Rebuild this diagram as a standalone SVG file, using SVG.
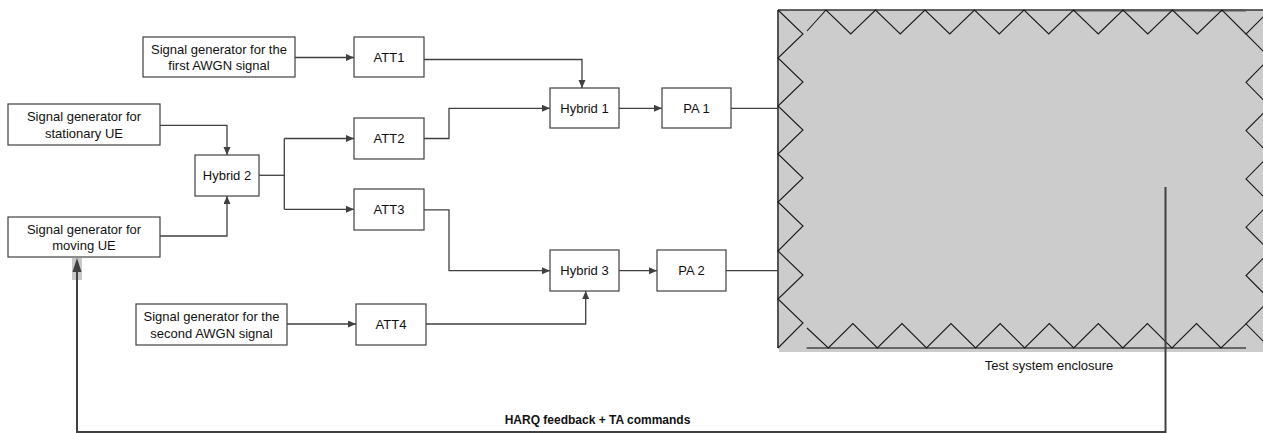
<svg xmlns="http://www.w3.org/2000/svg" width="1263" height="433" viewBox="0 0 1263 433">
<defs>
<style>
.box{fill:#fff;stroke:#404040;stroke-width:1.2}
.t{font-family:"Liberation Sans",Arial,sans-serif;font-size:13px;fill:#111;text-anchor:middle}
.c{fill:none;stroke:#404040;stroke-width:1.3}
.z{fill:none;stroke:#1a1a1a;stroke-width:1.1}
.fb{fill:none;stroke:#404040;stroke-width:2}
</style>
<marker id="ah" markerUnits="userSpaceOnUse" markerWidth="9" markerHeight="8" refX="8" refY="3.5" orient="auto">
<path d="M0,0 L8,3.5 L0,7 z" fill="#404040"/>
</marker>
</defs>
<rect width="1263" height="433" fill="#fff"/>

<g id="enclosure">
<rect x="779" y="10" width="490" height="342" fill="#cccccc"/>
<line x1="778" y1="10" x2="1263" y2="10" stroke="#333" stroke-width="1.5"/>
<line x1="1073" y1="10.5" x2="1246" y2="10.5" stroke="#555" stroke-width="2.2"/>
<line x1="778" y1="10" x2="778" y2="348" stroke="#1a1a1a" stroke-width="1.5"/>
<line x1="806.7" y1="348" x2="1246" y2="348" stroke="#444" stroke-width="1.4"/>
<polyline class="z" points="778,10 803,34 778,58 803,82 778,106 803,130 778,154 803,178 778,202 803,226 778,251 803,275 778,299 803,323 778,348"/>
<polyline class="z" points="807,31 826,10 850.75,34 875.5,10 900.25,34 925,10 949.75,34 974.5,10 999.25,34 1024,10 1048.75,34 1073.5,10 1098.25,34 1123,10 1147.75,34 1172.5,10 1197.25,34 1222,10 1246,34"/>
<polyline class="z" points="1270,10 1246,34 1270,58 1246,82.3 1270,106.5 1246,130.6 1270,154.8 1246,178.9 1270,203 1246,227.2 1270,251.4 1246,275.5 1270,299.7 1246,323.8 1270,348"/>
<polyline class="z" points="807,328 828.3,348 852.9,323.5 877.4,348 902,323.5 926.5,348 951,323.5 975.6,348 1000.2,323.5 1024.7,348 1049.3,323.5 1073.8,348 1098.3,323.5 1122.8,348 1147.4,323.5 1171.9,348 1196.5,323.5 1221,348 1246,323.8"/>
<text class="t" x="1049" y="370">Test system enclosure</text>
</g>

<g id="sg1"><rect class="box" x="143" y="37" width="152" height="40"/><text class="t" x="219" y="53.5">Signal generator for the</text><text class="t" x="219" y="70">first AWGN signal</text></g>
<g id="att1"><rect class="box" x="354" y="37" width="70" height="40"/><text class="t" x="389" y="61.5">ATT1</text></g>
<g id="sgstat"><rect class="box" x="8" y="104" width="152" height="41"/><text class="t" x="84" y="121">Signal generator for</text><text class="t" x="84" y="137.5">stationary UE</text></g>
<g id="hybrid2"><rect class="box" x="195" y="155" width="64" height="41"/><text class="t" x="227" y="180">Hybrid 2</text></g>
<g id="att2"><rect class="box" x="354" y="118" width="70" height="41"/><text class="t" x="389" y="143">ATT2</text></g>
<g id="att3"><rect class="box" x="354" y="189" width="70" height="41"/><text class="t" x="389" y="214">ATT3</text></g>
<g id="sgmov"><rect class="box" x="8" y="217" width="152" height="40"/><text class="t" x="84" y="233.5">Signal generator for</text><text class="t" x="84" y="250">moving UE</text></g>
<g id="sg2"><rect class="box" x="136" y="304" width="151" height="41"/><text class="t" x="211.5" y="321">Signal generator for the</text><text class="t" x="211.5" y="337.5">second AWGN signal</text></g>
<g id="att4"><rect class="box" x="356" y="304" width="70" height="41"/><text class="t" x="391" y="329">ATT4</text></g>
<g id="hybrid1"><rect class="box" x="550" y="88" width="69" height="40"/><text class="t" x="584.5" y="112.5">Hybrid 1</text></g>
<g id="pa1"><rect class="box" x="662" y="88" width="69" height="40"/><text class="t" x="696.5" y="112.5">PA 1</text></g>
<g id="hybrid3"><rect class="box" x="550" y="250" width="69" height="41"/><text class="t" x="584.5" y="275">Hybrid 3</text></g>
<g id="pa2"><rect class="box" x="657" y="250" width="69" height="41"/><text class="t" x="691.5" y="275">PA 2</text></g>

<g id="connectors">
<path class="c" d="M295,57.5 H354" marker-end="url(#ah)"/>
<path class="c" d="M424,59.5 H582 V88" marker-end="url(#ah)"/>
<path class="c" d="M424,138.5 H449 V108.3 H550" marker-end="url(#ah)"/>
<path class="c" d="M619,108.3 H662" marker-end="url(#ah)"/>
<path class="c" d="M731,108.3 H778"/>
<path class="c" d="M424,209.8 H449 V270.7 H550" marker-end="url(#ah)"/>
<path class="c" d="M619,270.7 H657" marker-end="url(#ah)"/>
<path class="c" d="M726,270.7 H778"/>
<path class="c" d="M287,324 H356" marker-end="url(#ah)"/>
<path class="c" d="M426,324 H585.7 V291" marker-end="url(#ah)"/>
<path class="c" d="M160,125.3 H227 V155" marker-end="url(#ah)"/>
<path class="c" d="M160,236 H227 V196" marker-end="url(#ah)"/>
<path class="c" d="M259,175.3 H284.3"/>
<path class="c" d="M284.3,138.5 V209.3"/>
<path class="c" d="M284.3,138.5 H354" marker-end="url(#ah)"/>
<path class="c" d="M284.3,209.3 H354" marker-end="url(#ah)"/>
<rect x="72" y="258" width="10" height="22" fill="#c8c8c8"/>
<path class="fb" d="M1165.5,187 V432 H77 V271"/>
<path d="M77,258 L72.5,272 L81.5,272 z" fill="#404040"/>
<text x="597.5" y="424" font-family="Liberation Sans,Arial,sans-serif" font-size="12" font-weight="bold" fill="#111" text-anchor="middle">HARQ feedback + TA commands</text>
</g>
</svg>
